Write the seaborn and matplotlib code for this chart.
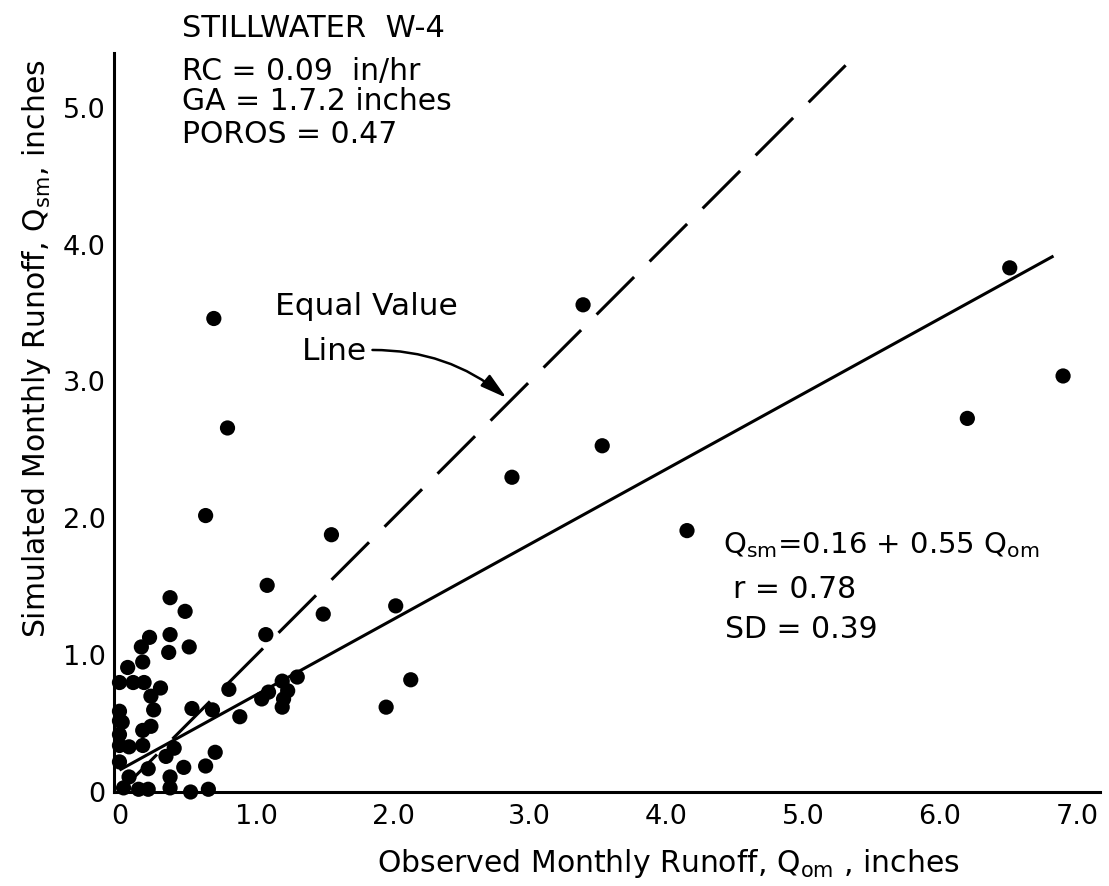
import matplotlib
matplotlib.use("Agg")
import matplotlib.pyplot as plt
import numpy as np
import pandas as pd
import seaborn as sns

# ---------------- data ----------------
observed = [0.69, 0.79, 0.63, 3.39, 3.53, 2.87, 1.55, 4.15, 6.51, 6.90,
            6.20, 1.08, 1.07, 1.49, 2.02, 2.13, 1.95, 0.37, 0.48, 0.22,
            0.37, 0.51, 0.36, 0.16, 0.17, 0.06, 0.00, 0.10, 0.18, 0.30,
            0.23, 0.25, 0.80, 0.53, 0.68, 0.88, 1.09, 1.04, 1.19, 1.30,
            1.23, 1.20, 1.19, 0.00, 0.00, 0.02, 0.00, 0.17, 0.23, 0.00,
            0.07, 0.17, 0.00, 0.21, 0.34, 0.40, 0.47, 0.63, 0.70, 0.37,
            0.07, 0.03, 0.14, 0.21, 0.37, 0.52, 0.65]
simulated = [3.46, 2.66, 2.02, 3.56, 2.53, 2.30, 1.88, 1.91, 3.83, 3.04,
             2.73, 1.51, 1.15, 1.30, 1.36, 0.82, 0.62, 1.42, 1.32, 1.13,
             1.15, 1.06, 1.02, 1.06, 0.95, 0.91, 0.80, 0.80, 0.80, 0.76,
             0.70, 0.60, 0.75, 0.61, 0.60, 0.55, 0.73, 0.68, 0.81, 0.84,
             0.74, 0.68, 0.62, 0.59, 0.52, 0.51, 0.42, 0.45, 0.48, 0.34,
             0.33, 0.34, 0.22, 0.17, 0.26, 0.32, 0.18, 0.19, 0.29, 0.11,
             0.11, 0.03, 0.02, 0.02, 0.03, 0.00, 0.02]

x_ticks = [0, 1, 2, 3, 4, 5, 6, 7]
x_tick_labels = ["0", "1.0", "2.0", "3.0", "4.0", "5.0", "6.0", "7.0"]
y_ticks = [0, 1, 2, 3, 4, 5]
y_tick_labels = ["0", "1.0", "2.0", "3.0", "4.0", "5.0"]

fit_intercept = 0.16
fit_slope = 0.55
fit_x_range = [0.0, 6.83]
equal_line_range = [0.0, 5.31]

# ---------------- figure ----------------
sns.set_theme(style="white")
plt.rcParams["font.family"] = ["DejaVu Sans"]
plt.rcParams["mathtext.fontset"] = "dejavusans"
plt.rcParams["axes.edgecolor"] = "black"

W, H = 1109, 886
fig = plt.figure(figsize=(W / 100, H / 100), dpi=100)
fig.patch.set_facecolor("white")
ax = fig.add_axes([114 / W, 1 - 792 / H, (1100 - 114) / W, (792 - 53) / H])
ax.set_facecolor("white")

df = pd.DataFrame({"observed": observed, "simulated": simulated})
sns.scatterplot(data=df, x="observed", y="simulated", ax=ax, s=120,
                color="black", edgecolor="none", linewidth=0,
                legend=False, zorder=3, clip_on=False)

fit_df = pd.DataFrame({"x": fit_x_range,
                       "y": [fit_intercept + fit_slope * v for v in fit_x_range]})
ax.plot(fit_df["x"], fit_df["y"], color="black", lw=2.2,
        solid_capstyle="butt")

lw_d = 2.2
ax.plot(equal_line_range, equal_line_range, color="black", lw=lw_d,
        linestyle=(0, (38.2 / lw_d, 15.8 / lw_d)), dash_capstyle="butt")

ax.set_xlim(-0.04, 7.17)
ax.set_ylim(0, 5.40)
ax.set_xticks(x_ticks)
ax.set_xticklabels(x_tick_labels)
ax.set_yticks(y_ticks)
ax.set_yticklabels(y_tick_labels)
ax.grid(False)

for side in ["top", "right"]:
    ax.spines[side].set_visible(False)
for side in ["left", "bottom"]:
    ax.spines[side].set_linewidth(2.2)
    ax.spines[side].set_color("black")

ax.tick_params(axis="both", direction="in", length=13, width=1.8,
               color="black", labelcolor="black", labelsize=19.5)
ax.tick_params(axis="x", pad=9)
ax.tick_params(axis="y", pad=6)

ax.set_xlabel("Observed Monthly Runoff, Q$_{\\mathrm{om}}$ , inches",
              fontsize=21.5, color="black")
ax.xaxis.set_label_coords((668.5 - 114) / 986, (792 - 872) / 739)
ax.xaxis.label.set_va("baseline")

ax.set_ylabel("Simulated Monthly Runoff, Q$_{\\mathrm{sm}}$, inches",
              fontsize=21.5, color="black")
ax.yaxis.set_label_coords((45 - 114) / 986, (792 - 349) / 739)
ax.yaxis.label.set_va("baseline")


def ftext(px, py, s, size=21):
    fig.text(px / W, 1 - py / H, s, ha="left", va="baseline",
             fontsize=size, color="black")


ftext(182, 37, "STILLWATER  W-4", 22)
ftext(182, 80, "RC = 0.09  in/hr", 21.5)
ftext(182, 110, "GA = 1.7.2 inches", 21.5)
ftext(182, 143, "POROS = 0.47", 21.5)

ftext(723, 553, "Q$_{\\mathrm{sm}}$=0.16 + 0.55 Q$_{\\mathrm{om}}$", 21)
ftext(733, 598, "r = 0.78", 21.5)
ftext(725, 638, "SD = 0.39", 21.5)

ftext(275, 315, "Equal Value", 22.5)
ftext(302, 360, "Line", 22.5)

ax.annotate("", xy=(2.83, 2.88), xytext=(1.85, 3.23),
            arrowprops=dict(arrowstyle="-|>,head_length=0.8,head_width=0.22",
                            connectionstyle="arc3,rad=-0.18",
                            color="black", lw=1.8, shrinkA=0, shrinkB=0,
                            mutation_scale=20))

fig.savefig("out.png", dpi=100, facecolor="white")
